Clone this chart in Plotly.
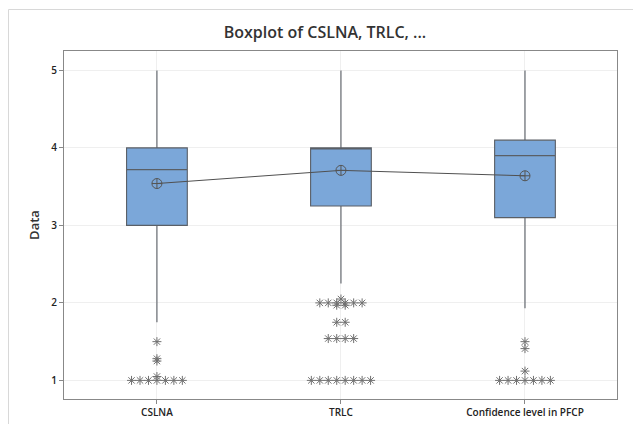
import plotly.graph_objects as go
from collections import Counter

categories = ["CSLNA", "TRLC", "Confidence level in PFCP"]
q1 = [3.0, 3.25, 3.1]
median = [3.72, 4.0, 3.9]
q3 = [4.0, 4.0, 4.1]
lower_whisker = [1.75, 2.25, 1.93]
upper_whisker = [5.0, 5.0, 5.0]
means = [3.54, 3.71, 3.64]
outliers = [
    [1.5, 1.28, 1.25, 1.05] + [1.0] * 7,
    [2.05] + [2.0] * 6 + [1.97] * 2 + [1.75] * 2 + [1.54] * 4 + [1.0] * 8,
    [1.5, 1.41, 1.12] + [1.0] * 7,
]

BOX_FILL = "#7ba7d9"
BOX_LINE = "#5a5f66"
GRAY = "#707070"
FONT = "Open Sans"

# page has an 8px body margin; figure coordinates are page minus 8
W, H = 625, 416
L, R, T, B = 56, 16, 43, 25
pw, ph = W - L - R, H - T - B

fig = go.Figure()
xs = list(range(len(categories)))
for i, c in enumerate(categories):
    fig.add_trace(go.Box(
        x=[i], q1=[q1[i]], median=[median[i]], q3=[q3[i]],
        lowerfence=[lower_whisker[i]], upperfence=[upper_whisker[i]],
        width=0.33, whiskerwidth=0, boxpoints=False,
        fillcolor=BOX_FILL, line=dict(color=BOX_LINE, width=1.1),
        name=c, showlegend=False, hoverinfo="skip",
    ))

spacing = 0.046
ox, oy = [], []
for i, vals in enumerate(outliers):
    counts = Counter(vals)
    for v, n in counts.items():
        for k in range(n):
            ox.append(i + (k - (n - 1) / 2) * spacing)
            oy.append(v)
fig.add_trace(go.Scatter(
    x=ox, y=oy, mode="markers", showlegend=False, hoverinfo="skip",
    marker=dict(symbol="asterisk-open", size=7.5, color=GRAY,
                line=dict(color=GRAY, width=1)),
))

fig.add_trace(go.Scatter(
    x=xs, y=means, mode="lines+markers", showlegend=False, hoverinfo="skip",
    line=dict(color="#505050", width=1),
    marker=dict(symbol="circle-cross-open", size=10, color="#555555",
                line=dict(color="#555555", width=1)),
))

def px_x(p):
    return (p - L) / pw

def px_y(p):
    return (H - B - p) / ph

# light frame: top and left edges only
fig.add_shape(type="line", xref="paper", yref="paper",
              x0=px_x(0.5), x1=px_x(W + 10), y0=px_y(1.5), y1=px_y(1.5),
              line=dict(color="#d8d8d8", width=1), layer="below")
fig.add_shape(type="line", xref="paper", yref="paper",
              x0=px_x(0.5), x1=px_x(0.5), y0=px_y(1.5), y1=px_y(H + 10),
              line=dict(color="#d8d8d8", width=1), layer="below")

fig.update_layout(
    width=W, height=H,
    margin=dict(l=L, r=R, t=T, b=B, autoexpand=False),
    paper_bgcolor="white", plot_bgcolor="white",
    boxmode="overlay",
    title=dict(text="Boxplot of CSLNA, TRLC, ...", x=317 / W, xanchor="center",
               y=1 - 24 / H, yanchor="middle", automargin=False,
               font=dict(family=FONT, size=16, color="#333333", weight=600)),
    font=dict(family=FONT, color="#333333"),
    xaxis=dict(range=[-0.505, 2.5], tickvals=xs, ticktext=categories,
               automargin=False,
               showgrid=True, gridcolor="#efefef", zeroline=False,
               showline=True, linecolor="#888888", mirror=True,
               ticks="outside", ticklen=4, tickcolor="#888888",
               tickfont=dict(size=10, color="#222222", weight=600)),
    yaxis=dict(range=[0.76, 5.25], tickvals=[1, 2, 3, 4, 5],
               automargin=False,
               showgrid=True, gridcolor="#efefef", zeroline=False,
               showline=True, linecolor="#888888", mirror=True,
               ticks="outside", ticklen=4, tickcolor="#888888",
               tickfont=dict(size=10, color="#222222", weight=600),
               title=dict(text="Data", standoff=8,
                          font=dict(size=13, color="#333333", weight=600))),
)

fig.write_html("out.html")
